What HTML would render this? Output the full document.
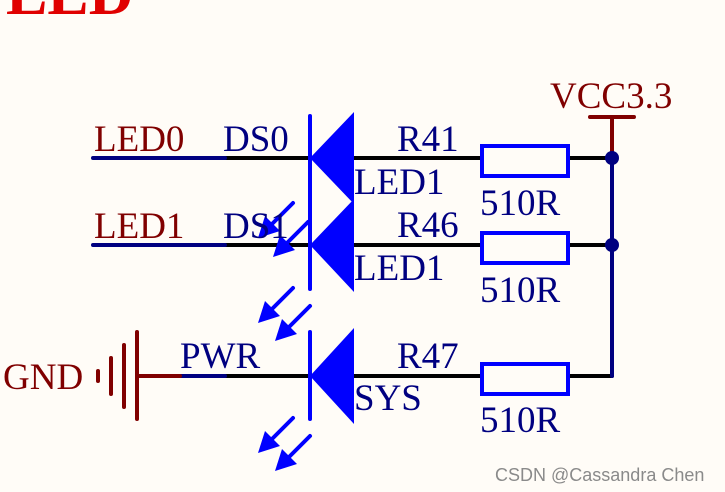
<!DOCTYPE html>
<html><head><style>
html,body{margin:0;padding:0;background:#fffcf7;}
svg{display:block}
text{font-family:"Liberation Serif",serif;font-size:37px}
</style></head><body>
<svg width="725" height="492" viewBox="0 0 725 492" xmlns="http://www.w3.org/2000/svg">
<rect width="725" height="492" fill="#fffcf7"/>
<text x="6" y="14" fill="#e00000" style="font-size:62px;font-weight:bold">LED</text>

<g stroke-width="4" stroke-linecap="round">
<line x1="225" y1="158" x2="612" y2="158" stroke="#000"/>
<line x1="93" y1="158" x2="225" y2="158" stroke="#000080"/>
<line x1="225" y1="245" x2="612" y2="245" stroke="#000"/>
<line x1="93" y1="245" x2="225" y2="245" stroke="#000080"/>
<line x1="225" y1="376" x2="612" y2="376" stroke="#000"/>
<line x1="180" y1="376" x2="225" y2="376" stroke="#000080"/>
<line x1="137" y1="376" x2="180" y2="376" stroke="#800000"/>
<line x1="612" y1="150" x2="612" y2="376" stroke="#000080"/>
<line x1="612" y1="117" x2="612" y2="150" stroke="#800000"/>
<line x1="590" y1="117" x2="634" y2="117" stroke="#800000"/>
<line x1="137" y1="332" x2="137" y2="419" stroke="#800000"/>
<line x1="124" y1="345" x2="124" y2="407" stroke="#800000"/>
<line x1="111" y1="358" x2="111" y2="394" stroke="#800000"/>
<line x1="98" y1="371" x2="98" y2="381" stroke="#800000"/>
</g>
<circle cx="612" cy="158" r="7" fill="#000080"/>
<circle cx="612" cy="245" r="7" fill="#000080"/>

<g fill="#fffcf7" stroke="#0000ff" stroke-width="4">
<rect x="482" y="146" width="86" height="30"/>
<rect x="482" y="233" width="86" height="30"/>
<rect x="482" y="364" width="86" height="30"/>
</g>

<g fill="#0000ff">
<polygon points="354,112 310,158 354,204"/>
<polygon points="354,199 310,245 354,292"/>
<polygon points="354,328 310,376 354,424"/>
</g>
<g stroke="#0000ff" stroke-width="4" stroke-linecap="round">
<line x1="310" y1="116" x2="310" y2="289"/>
<line x1="310" y1="332" x2="310" y2="419"/>
</g>

<g stroke="#0000ff" stroke-width="4" stroke-linecap="round" fill="#0000ff">
<line x1="293" y1="203" x2="270" y2="226"/>
<polygon stroke="none" points="258,238 265,216 280,231"/>
<line x1="308" y1="222" x2="285" y2="245"/>
<polygon stroke="none" points="273,257 280,235 295,250"/>
<line x1="293" y1="288" x2="270" y2="311"/>
<polygon stroke="none" points="258,323 265,301 280,316"/>
<line x1="310" y1="306" x2="287" y2="329"/>
<polygon stroke="none" points="275,341 282,319 297,334"/>
<line x1="293" y1="418" x2="270" y2="441"/>
<polygon stroke="none" points="258,453 265,431 280,446"/>
<line x1="310" y1="436" x2="287" y2="459"/>
<polygon stroke="none" points="275,471 282,449 297,464"/>
</g>

<g fill="#800000">
<text x="550" y="108">VCC3.3</text>
<text x="94" y="151">LED0</text>
<text x="94" y="238">LED1</text>
<text x="3" y="389">GND</text>
</g>
<g fill="#000080">
<text x="223" y="151">DS0</text>
<text x="223" y="238">DS1</text>
<text x="180" y="368">PWR</text>
<text x="397" y="151">R41</text>
<text x="397" y="237">R46</text>
<text x="397" y="368">R47</text>
<text x="354" y="194">LED1</text>
<text x="354" y="280">LED1</text>
<text x="354" y="410">SYS</text>
<text x="480" y="215">510R</text>
<text x="480" y="302">510R</text>
<text x="480" y="432">510R</text>
</g>
<text x="495" y="481" fill="#8a8a8a" style="font-family:'Liberation Sans',sans-serif;font-size:18px">CSDN @Cassandra Chen</text>
</svg>
</body></html>
